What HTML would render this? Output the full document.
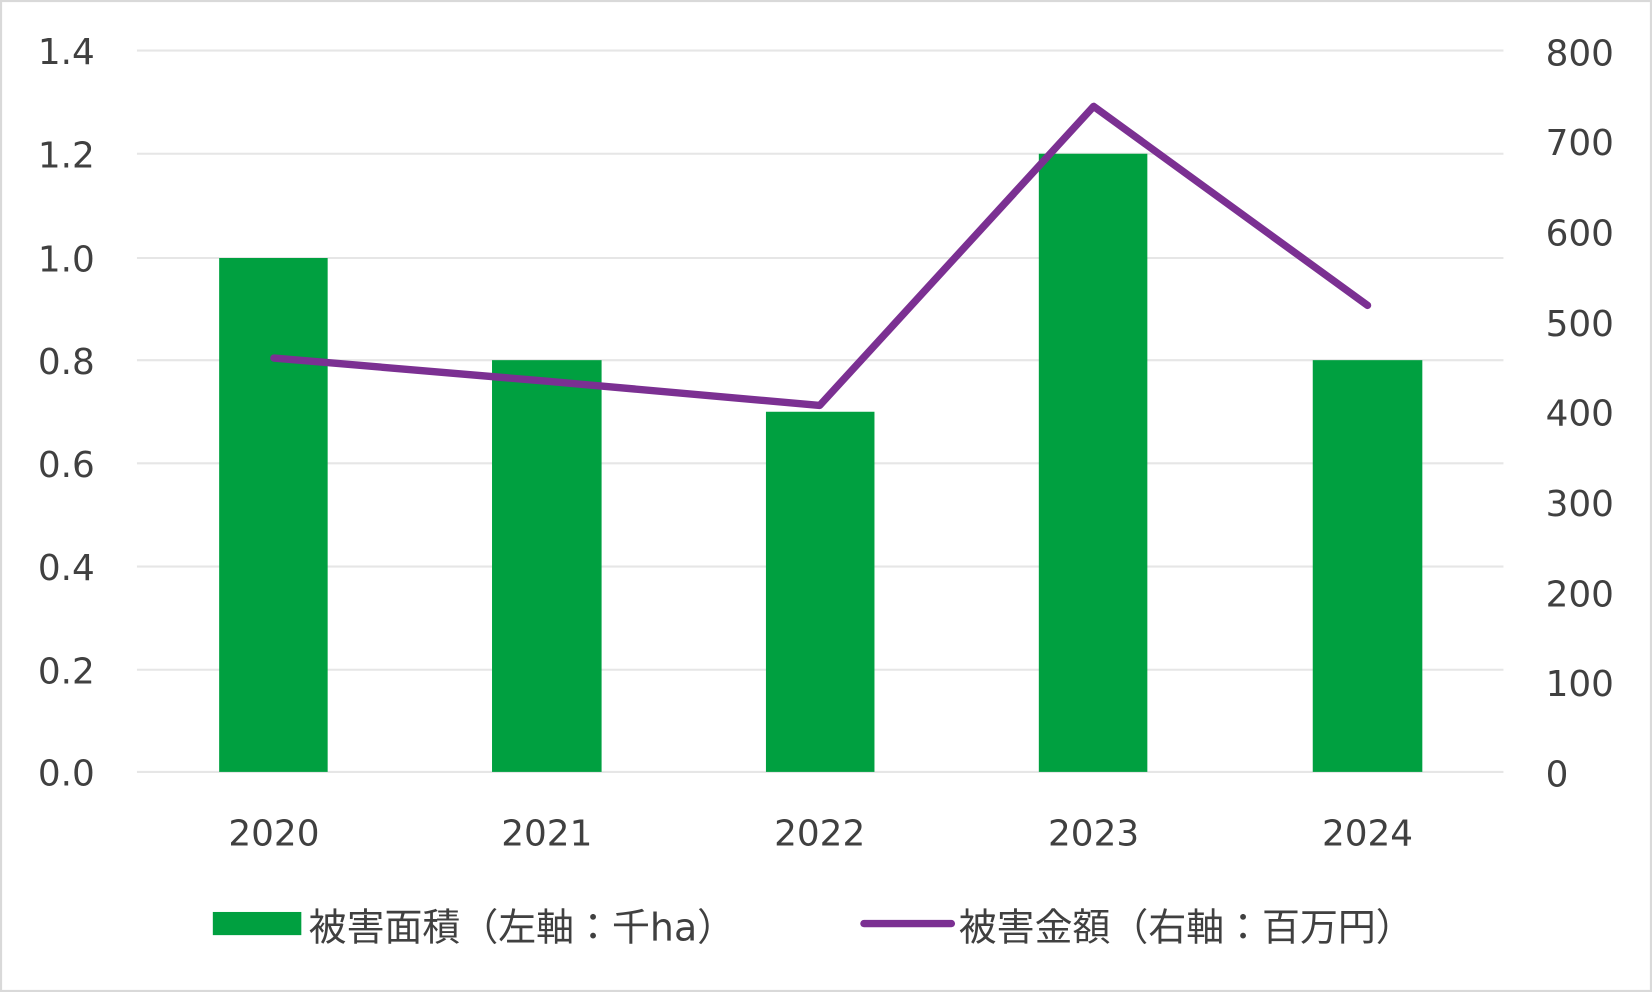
<!DOCTYPE html>
<html><head><meta charset="utf-8"><style>html,body{margin:0;padding:0;background:#fff}svg{display:block}</style></head><body>
<svg width="1652" height="992" viewBox="0 0 1568 942" preserveAspectRatio="none" xmlns="http://www.w3.org/2000/svg" font-family="DejaVu Sans, Noto Sans CJK JP, sans-serif" fill="#404040">
<rect x="1" y="1" width="1566" height="940" fill="#fff" stroke="#d9d9d9" stroke-width="2"/>
<g stroke="#e6e6e6" stroke-width="2">
<line x1="130" x2="1427" y1="48" y2="48"/><line x1="130" x2="1427" y1="146" y2="146"/><line x1="130" x2="1427" y1="245" y2="245"/><line x1="130" x2="1427" y1="342" y2="342"/><line x1="130" x2="1427" y1="440" y2="440"/><line x1="130" x2="1427" y1="538" y2="538"/><line x1="130" x2="1427" y1="636" y2="636"/><line x1="130" x2="1427" y1="733" y2="733"/>
</g>
<g fill="#00a040">
<rect x="208" y="245" width="103" height="488"/><rect x="467" y="342" width="104" height="391"/><rect x="727" y="391" width="103" height="342"/><rect x="986" y="146" width="103" height="587"/><rect x="1246" y="342" width="104" height="391"/>
</g>
<polyline points="260,340 519,362 778,385 1038,101 1298,290" fill="none" stroke="#7b3092" stroke-width="7" stroke-linejoin="round" stroke-linecap="round"/>
<g font-size="34" text-anchor="end">
<text x="90" y="61">1.4</text><text x="90" y="159">1.2</text><text x="90" y="258">1.0</text><text x="90" y="355">0.8</text><text x="90" y="453">0.6</text><text x="90" y="551">0.4</text><text x="90" y="649">0.2</text><text x="90" y="746">0.0</text>
</g>
<g font-size="34">
<text x="1467" y="62">800</text><text x="1467" y="147">700</text><text x="1467" y="233">600</text><text x="1467" y="319">500</text><text x="1467" y="404">400</text><text x="1467" y="490">300</text><text x="1467" y="576">200</text><text x="1467" y="661">100</text><text x="1467" y="747">0</text>
</g>
<g font-size="34" text-anchor="middle">
<text x="260" y="803">2020</text><text x="519" y="803">2021</text><text x="778" y="803">2022</text><text x="1038" y="803">2023</text><text x="1298" y="803">2024</text>
</g>
<rect x="202" y="866" width="84" height="22" fill="#00a040"/>
<text x="293" y="893" font-size="36">被害面積（左軸：千ha）</text>
<line x1="820" x2="903" y1="877" y2="877" stroke="#7b3092" stroke-width="7" stroke-linecap="round"/>
<text x="910" y="893" font-size="36">被害金額（右軸：百万円）</text>
</svg>
</body></html>
